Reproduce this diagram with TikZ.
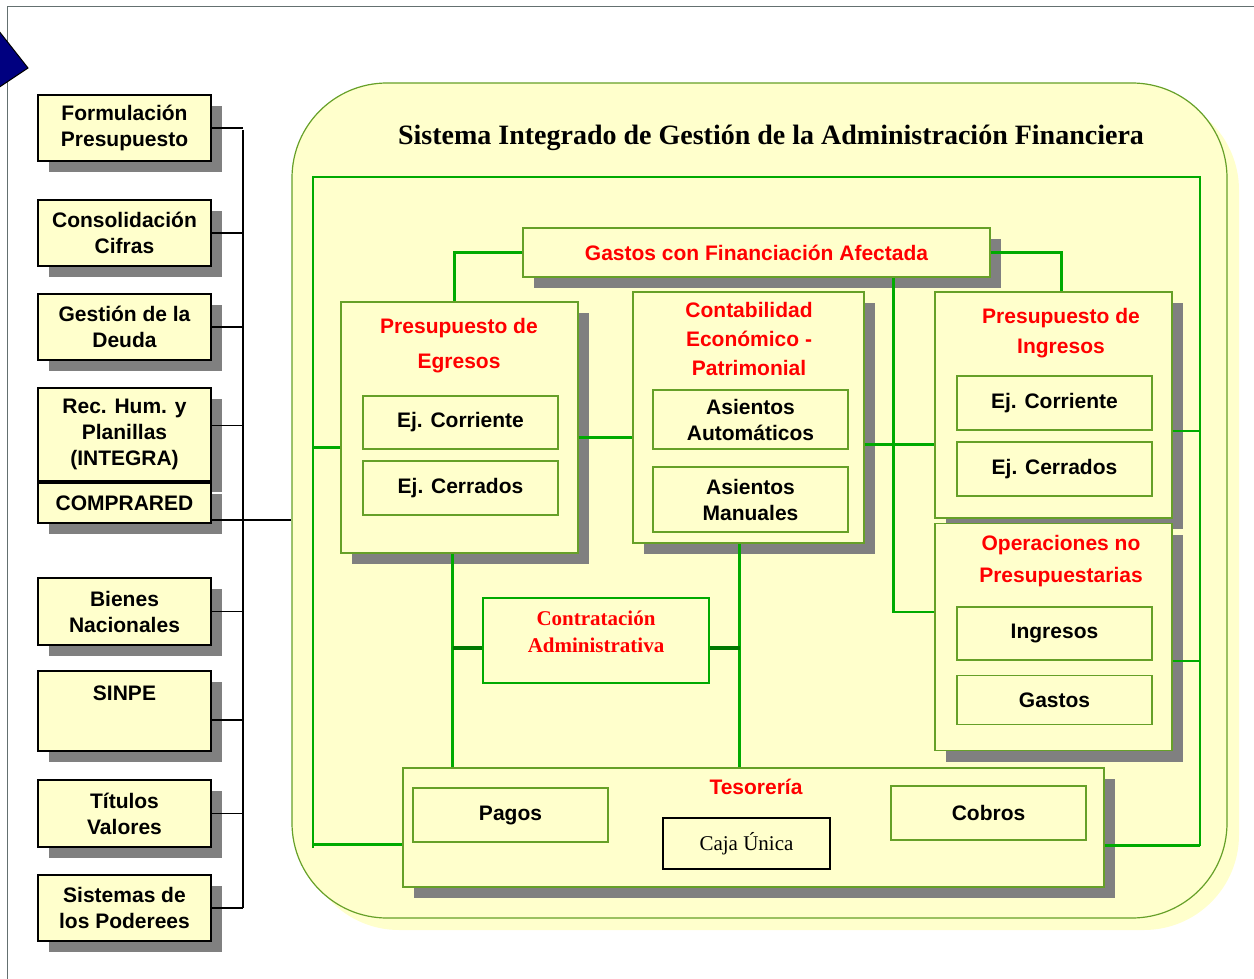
\documentclass[tikz,border=0pt]{standalone}
\usepackage{fontspec}
\setmainfont{Liberation Serif}
\setsansfont{Liberation Sans}
\usetikzlibrary{shadows}

\definecolor{paleyellow}{RGB}{255,255,204}
\definecolor{boxgreen}{RGB}{102,160,40}
\definecolor{busgreen}{RGB}{0,170,0}
\definecolor{darkbus}{RGB}{0,120,0}
\definecolor{shadowgray}{RGB}{128,128,128}
\definecolor{navyblue}{RGB}{0,0,128}
\definecolor{framegray}{RGB}{100,112,112}

\tikzstyle{modbox} = [rectangle, draw=black, line width=1.2pt, fill=paleyellow, minimum width=173pt, inner sep=0pt, align=center, font=\sffamily\bfseries\fontsize{21}{26}\selectfont, drop shadow={shadow xshift=11pt, shadow yshift=-11pt, fill=shadowgray, opacity=1}]
\tikzstyle{areabox} = [rectangle, draw=boxgreen, line width=1.2pt, fill=paleyellow, inner sep=0pt, drop shadow={shadow xshift=11pt, shadow yshift=-11pt, fill=shadowgray, opacity=1}]
\tikzstyle{partbox} = [rectangle, draw=boxgreen, line width=1.2pt, fill=paleyellow, minimum width=195pt, inner sep=0pt, align=center, font=\sffamily\bfseries\fontsize{21}{26}\selectfont]
\tikzstyle{heading} = [text=red, align=center, font=\sffamily\bfseries\fontsize{21}{30}\selectfont]
\tikzstyle{busline} = [line width=2.5pt, draw=busgreen]
\tikzstyle{link} = [line width=1.2pt, draw=black]

\begin{document}
\begin{tikzpicture}[x=1pt, y=-1pt]
    \useasboundingbox (0,0) rectangle (1254,979);
    \draw [framegray, line width=1pt] (1254,7) -- (7,7) -- (7,979);
    \filldraw [fill=navyblue, draw=black, line width=1pt] (-20,7) -- (28,68) -- (-20,100) -- cycle;

    % outer system
    \node (sigaf) [rectangle, rounded corners=95pt, draw=boxgreen, line width=1.2pt, fill=paleyellow, minimum width=935pt, minimum height=835pt, drop shadow={shadow xshift=12pt, shadow yshift=-12pt, fill=paleyellow, opacity=1}] at (759.5,500.5) {};
    \node (title) [font=\rmfamily\bfseries\fontsize{28}{34}\selectfont] at (771,138) {Sistema Integrado de Gestión de la Administración Financiera};

    % left modules
    \node (formul) [modbox, minimum height=66pt] at (124.5,128) {Formulación\\Presupuesto};
    \node (consol) [modbox, minimum height=66pt] at (124.5,233) {Consolidación\\Cifras};
    \node (deuda) [modbox, minimum height=66pt] at (124.5,327) {Gestión de la\\Deuda};
    \node (integra) [modbox, minimum height=93pt] at (124.5,434.5) {Rec. Hum. y\\Planillas\\(INTEGRA)};
    \node (comprared) [modbox, minimum height=40pt] at (124.5,503) {COMPRARED};
    \node (bienes) [modbox, minimum height=67pt] at (124.5,611.5) {Bienes\\Nacionales};
    \node (sinpe) [modbox, minimum height=80pt, text height=15pt, text depth=36pt] at (124.5,711) {SINPE};
    \node (titulos) [modbox, minimum height=67pt] at (124.5,813.5) {Títulos\\Valores};
    \node (poderes) [modbox, minimum height=66pt] at (124.5,908) {Sistemas de\\los Poderees};

    \coordinate (hubtop) at (243,130);
    \coordinate (hubbot) at (243,908);
    \draw [link] (hubtop) -- (hubbot);
    \foreach \n in {formul, consol, deuda, bienes, titulos, poderes}
        \draw [link] (\n.east) -- (\n.east -| hubtop);
    \coordinate (integraE) at ([yshift=9pt]integra.east);
    \draw [link] (integraE) -- (integraE -| hubtop);
    \coordinate (sinpeE) at ([yshift=-9pt]sinpe.east);
    \draw [link] (sinpeE) -- (sinpeE -| hubtop);
    \coordinate (compraredE) at ([yshift=-17pt]comprared.east);
    \draw [link] (compraredE) -- (compraredE -| sigaf.west);

    % inner areas
    \node (gfa) [areabox, minimum width=467pt, minimum height=49pt, text=red, font=\sffamily\bfseries\fontsize{21}{26}\selectfont] at (756.5,252.5) {Gastos con Financiación Afectada};
    \node (egr) [areabox, minimum width=237pt, minimum height=251pt] at (459.5,427.5) {};
    \node (cont) [areabox, minimum width=231pt, minimum height=251pt] at (748.5,417.5) {};
    \node (ing) [areabox, minimum width=237pt, minimum height=226pt] at (1053.5,405) {};
    \node (ops) [areabox, minimum width=237pt, minimum height=227pt] at (1053.5,637) {};
    \node (tes) [areabox, minimum width=701pt, minimum height=119pt] at (753.5,827.5) {};

    \node (egrtit) [heading, font=\sffamily\bfseries\fontsize{21}{35}\selectfont] at (459,345.5) {Presupuesto de\\Egresos};
    \node (conttit) [heading, font=\sffamily\bfseries\fontsize{21}{29}\selectfont] at (749,339) {Contabilidad\\Económico -\\Patrimonial};
    \node (ingtit) [heading] at (1061,333) {Presupuesto de\\Ingresos};
    \node (opstit) [heading, font=\sffamily\bfseries\fontsize{21}{32}\selectfont] at (1061,561) {Operaciones no\\Presupuestarias};
    \node (testit) [heading] at (756,787) {Tesorería};

    \node (egrcor) [partbox, minimum height=53pt] at (460.5,422.5) {Ej. Corriente};
    \node (egrcer) [partbox, minimum height=54pt] at (460.5,488) {Ej. Cerrados};
    \node (autom) [partbox, minimum height=59pt] at (750.5,419.5) {Asientos\\Automáticos};
    \node (manual) [partbox, minimum height=65pt] at (750.5,499.5) {Asientos\\Manuales};
    \node (ingcor) [partbox, minimum height=54pt] at (1054.5,403) {Ej. Corriente};
    \node (ingcer) [partbox, minimum height=54pt] at (1054.5,469) {Ej. Cerrados};
    \node (opsing) [partbox, minimum height=53pt] at (1054.5,633.5) {Ingresos};
    \node (opsgas) [partbox, minimum height=49pt] at (1054.5,700) {Gastos};
    \node (pagos) [partbox, minimum height=54pt] at (510.5,815) {Pagos};
    \node (cobros) [partbox, minimum height=54pt] at (988.5,813) {Cobros};
    \node (caja) [rectangle, draw=black, line width=1.2pt, minimum width=167pt, minimum height=51pt, font=\rmfamily\fontsize{21}{26}\selectfont] at (746.5,843.5) {Caja Única};

    \node (contrat) [rectangle, draw=busgreen, line width=2.5pt, fill=paleyellow, minimum width=226pt, minimum height=85pt, text=red, align=center, text depth=18pt, font=\rmfamily\bfseries\fontsize{21}{27}\selectfont] at (596,640.5) {Contratación\\Administrativa};

    % green bus
    \coordinate (busNW) at (313,177);
    \coordinate (busNE) at (1200,177);
    \coordinate (busSW) at (313,848);
    \coordinate (busSE) at (1200,846);
    \draw [busline] (busSW) -- (busNW) -- (busNE) -- (busSE);

    \draw [busline] (gfa.west) -| ([xshift=-5pt]egr.north);
    \draw [busline] (gfa.east) -| ([xshift=8pt]ing.north);

    \coordinate (egrE) at ([yshift=-10pt]egr.east);
    \draw [busline] (egrE) -- (egrE -| cont.west);
    \coordinate (contE) at ([yshift=-27pt]cont.east);
    \draw [busline] (contE) -- (contE -| ing.west);
    \coordinate (gfaS) at ([xshift=137pt]gfa.south);
    \coordinate (opsW) at ([yshift=25pt]ops.west);
    \draw [busline] (gfaS) |- (opsW);

    \coordinate (egrW) at ([yshift=-20pt]egr.west);
    \draw [busline] (egrW) -- (egrW -| busNW);
    \coordinate (tesW) at ([yshift=-17pt]tes.west);
    \draw [busline] (tesW) -- (tesW -| busNW);

    \coordinate (ingE) at ([yshift=-26pt]ing.east);
    \draw [busline] (ingE) -- (ingE -| busNE);
    \coordinate (opsE) at ([yshift=-24pt]ops.east);
    \draw [busline] (opsE) -- (opsE -| busNE);
    \coordinate (tesE) at ([yshift=-18pt]tes.east);
    \draw [busline] (tesE) -- (tesE -| busNE);

    \coordinate (egrS) at ([xshift=-7pt]egr.south);
    \draw [busline] (egrS) -- (egrS |- tes.north);
    \coordinate (contS) at ([xshift=-9pt]cont.south);
    \draw [busline] (contS) -- (contS |- tes.north);

    \coordinate (contratW) at ([yshift=-7pt]contrat.west);
    \coordinate (contratE) at ([yshift=-7pt]contrat.east);
    \draw [busline, draw=darkbus, line width=4pt] (contratW) -- (contratW -| egrS);
    \draw [busline, draw=darkbus, line width=4pt] (contratE) -- (contratE -| contS);

\end{tikzpicture}
\end{document}
